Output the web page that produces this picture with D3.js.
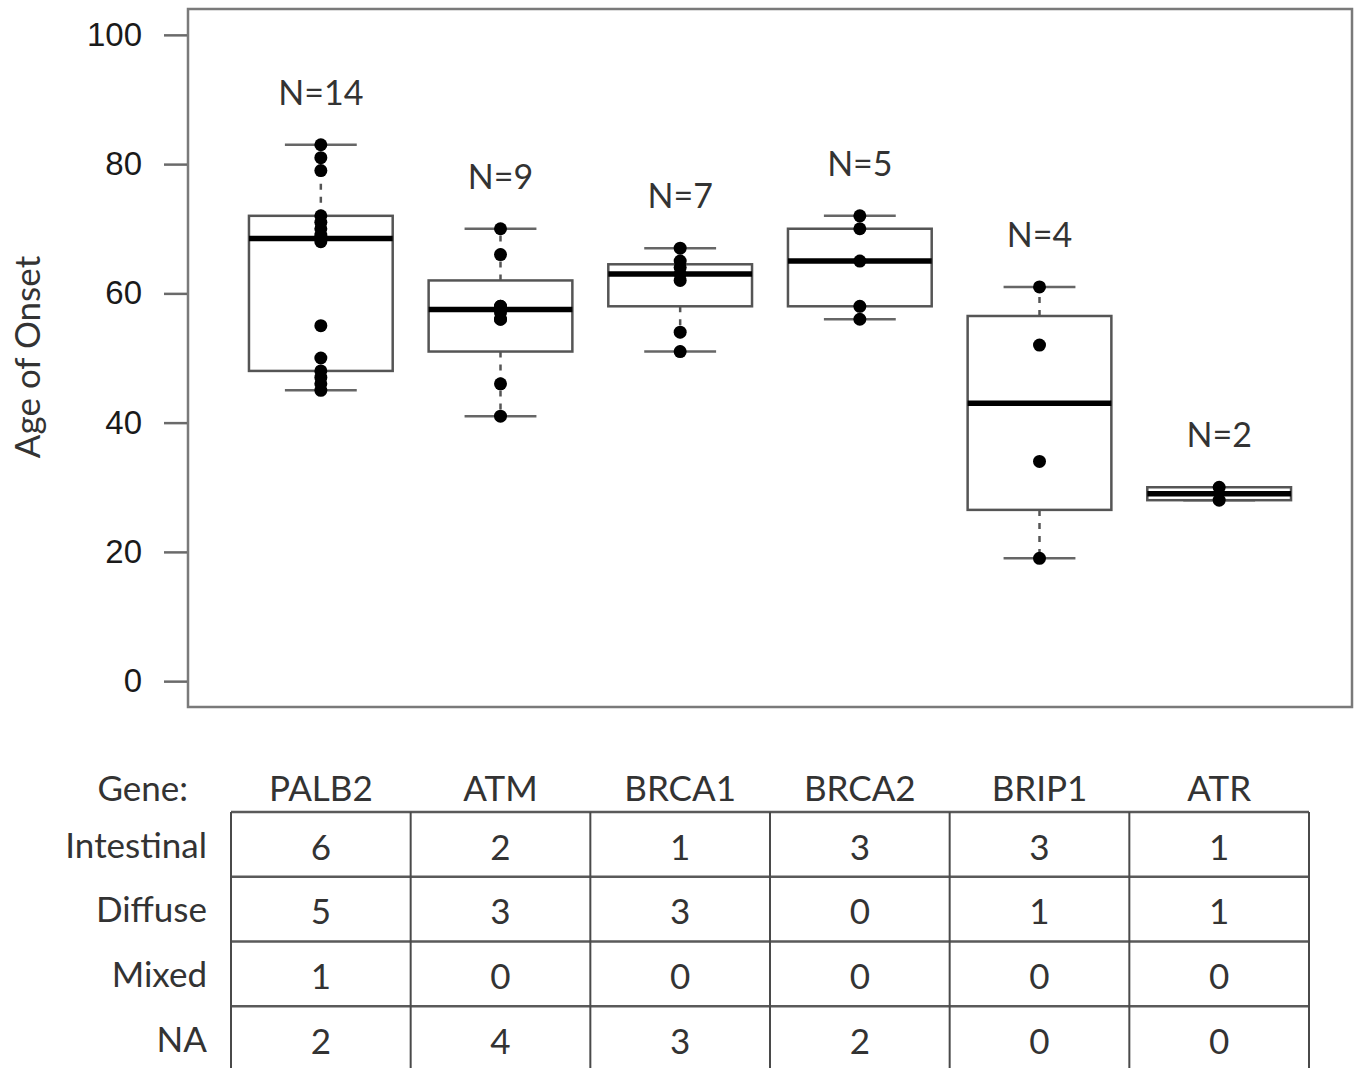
<!DOCTYPE html>
<html><head><meta charset="utf-8">
<script src="https://cdn.jsdelivr.net/npm/d3@7"></script>
<style>body{margin:0;background:#fff}svg{display:block}</style>
</head><body>
<svg id="c" width="1360" height="1068"></svg>
<script>
// ---- data ----
const genes = ["PALB2", "ATM", "BRCA1", "BRCA2", "BRIP1", "ATR"];
const nLabels = ["N=14", "N=9", "N=7", "N=5", "N=4", "N=2"];
const agesPALB2 = [45, 46, 47, 48, 50, 55, 68, 69, 70, 71, 72, 79, 81, 83];
const agesATM = [41, 46, 56, 56, 57, 58, 58, 66, 70];
const agesBRCA1 = [51, 54, 62, 63, 64, 65, 67];
const agesBRCA2 = [56, 58, 65, 70, 72];
const agesBRIP1 = [19, 34, 52, 61];
const agesATR = [28, 30];
const whiskerLow = [45, 41, 51, 56, 19, 28];
const boxQ1 = [48, 51, 58, 58, 26.5, 28];
const boxMedian = [68.5, 57.5, 63, 65, 43, 29];
const boxQ3 = [72, 62, 64.5, 70, 56.5, 30];
const whiskerHigh = [83, 70, 67, 72, 61, 30];
const yTicks = [0, 20, 40, 60, 80, 100];
const rowLabels = ["Intestinal", "Diffuse", "Mixed", "NA"];
const intestinal = [6, 2, 1, 3, 3, 1];
const diffuse = [5, 3, 3, 0, 1, 1];
const mixed = [1, 0, 0, 0, 0, 0];
const naCounts = [2, 4, 3, 2, 0, 0];
const ages = [agesPALB2, agesATM, agesBRCA1, agesBRCA2, agesBRIP1, agesATR];
const tableRows = [intestinal, diffuse, mixed, naCounts];

// ---- layout ----
const svg = d3.select("#c");
const plotL = 188, plotR = 1352, plotT = 9, plotB = 707;
const x = d3.scaleBand().domain(genes).range([231, 1309]).padding(0);
const y = d3.scaleLinear().domain([-4, 104]).range([plotB, plotT]);
const bw = x.bandwidth() * 0.8;
const cx = g => x(g) + x.bandwidth() / 2;
const font = "Lato, 'Open Sans', sans-serif";

// frame
svg.append("rect").attr("x", plotL).attr("y", plotT)
  .attr("width", plotR - plotL).attr("height", plotB - plotT)
  .attr("fill", "none").attr("stroke", "#7a7a7a").attr("stroke-width", 2.5);

// y axis
const yAxis = d3.axisLeft(y).tickValues(yTicks).tickSize(23).tickPadding(22);
const ga = svg.append("g").attr("transform", `translate(${plotL - 1},0)`).call(yAxis);
ga.select(".domain").remove();
ga.selectAll(".tick line").attr("stroke", "#6a6a6a").attr("stroke-width", 2.5);
ga.selectAll(".tick text").attr("font-family", "'Liberation Sans', Arial, sans-serif")
  .attr("font-size", 33).attr("fill", "#1a1a1a");

// y label
svg.append("text").attr("transform", "translate(40,357) rotate(-90)")
  .attr("text-anchor", "middle").attr("font-family", font).attr("font-size", 35)
  .attr("fill", "#333").text("Age of Onset");

// boxes
const groups = svg.append("g").selectAll("g").data(genes).join("g");
groups.each(function (g, i) {
  const s = d3.select(this);
  const c = cx(g);
  // whiskers (dashed)
  s.append("line").attr("x1", c).attr("x2", c).attr("y1", y(boxQ3[i])).attr("y2", y(whiskerHigh[i]))
    .attr("stroke", "#555").attr("stroke-width", 2.5).attr("stroke-dasharray", "6,7");
  s.append("line").attr("x1", c).attr("x2", c).attr("y1", y(boxQ1[i])).attr("y2", y(whiskerLow[i]))
    .attr("stroke", "#555").attr("stroke-width", 2.5).attr("stroke-dasharray", "6,7");
  // staples
  [whiskerLow[i], whiskerHigh[i]].forEach(v => {
    s.append("line").attr("x1", c - bw / 4).attr("x2", c + bw / 4).attr("y1", y(v)).attr("y2", y(v))
      .attr("stroke", "#666").attr("stroke-width", 2.5);
  });
  // box
  s.append("rect").attr("x", c - bw / 2).attr("y", y(boxQ3[i]))
    .attr("width", bw).attr("height", y(boxQ1[i]) - y(boxQ3[i]))
    .attr("fill", "#fff").attr("stroke", "#555").attr("stroke-width", 2.5);
  // median
  s.append("line").attr("x1", c - bw / 2).attr("x2", c + bw / 2)
    .attr("y1", y(boxMedian[i])).attr("y2", y(boxMedian[i]))
    .attr("stroke", "#000").attr("stroke-width", 5.5);
  // points
  s.selectAll("circle").data(ages[i]).join("circle")
    .attr("cx", c).attr("cy", d => y(d)).attr("r", 6.5).attr("fill", "#000");
  // N label
  s.append("text").attr("x", c).attr("y", y(d3.max(ages[i]) + 8))
    .attr("dy", "0.35em").attr("text-anchor", "middle")
    .attr("font-family", font).attr("font-size", 34).attr("fill", "#333").text(nLabels[i]);
});

// ---- table ----
const rowY = d3.scaleBand().domain(rowLabels).range([812, 1071]);
const tbl = svg.append("g");
// header
tbl.append("text").attr("x", 188).attr("y", 789).attr("dy", "0.35em").attr("text-anchor", "end")
  .attr("font-family", font).attr("font-size", 35).attr("fill", "#333").text("Gene:");
tbl.selectAll("text.hdr").data(genes).join("text").attr("class", "hdr")
  .attr("x", g => cx(g)).attr("y", 789).attr("dy", "0.35em").attr("text-anchor", "middle")
  .attr("font-family", font).attr("font-size", 35).attr("fill", "#333").text(d => d);
// row labels
tbl.selectAll("text.rl").data(rowLabels).join("text").attr("class", "rl")
  .attr("x", 207).attr("y", r => rowY(r) + rowY.bandwidth() / 2 + 1).attr("dy", "0.35em")
  .attr("text-anchor", "end").attr("font-family", font).attr("font-size", 35)
  .attr("fill", "#333").text(d => d);
// grid lines
const xL = x.range()[0], xR = x.range()[1];
rowLabels.forEach(r => {
  tbl.append("line").attr("x1", xL).attr("x2", xR).attr("y1", rowY(r)).attr("y2", rowY(r))
    .attr("stroke", "#5a5a5a").attr("stroke-width", 2.5);
});
tbl.append("line").attr("x1", xL).attr("x2", xR).attr("y1", rowY.range()[1]).attr("y2", rowY.range()[1])
  .attr("stroke", "#5a5a5a").attr("stroke-width", 2.5);
genes.concat([null]).forEach((g, i) => {
  const xx = g ? x(g) : xR;
  tbl.append("line").attr("x1", xx).attr("x2", xx).attr("y1", rowY.range()[0]).attr("y2", rowY.range()[1])
    .attr("stroke", "#4a4a4a").attr("stroke-width", 2);
});
// cell values
rowLabels.forEach((r, ri) => {
  tbl.selectAll(null).data(tableRows[ri]).join("text")
    .attr("x", (d, i) => cx(genes[i])).attr("y", rowY(r) + rowY.bandwidth() / 2 + 3)
    .attr("dy", "0.35em").attr("text-anchor", "middle")
    .attr("font-family", font).attr("font-size", 35).attr("fill", "#333").text(d => d);
});
</script>
</body></html>
